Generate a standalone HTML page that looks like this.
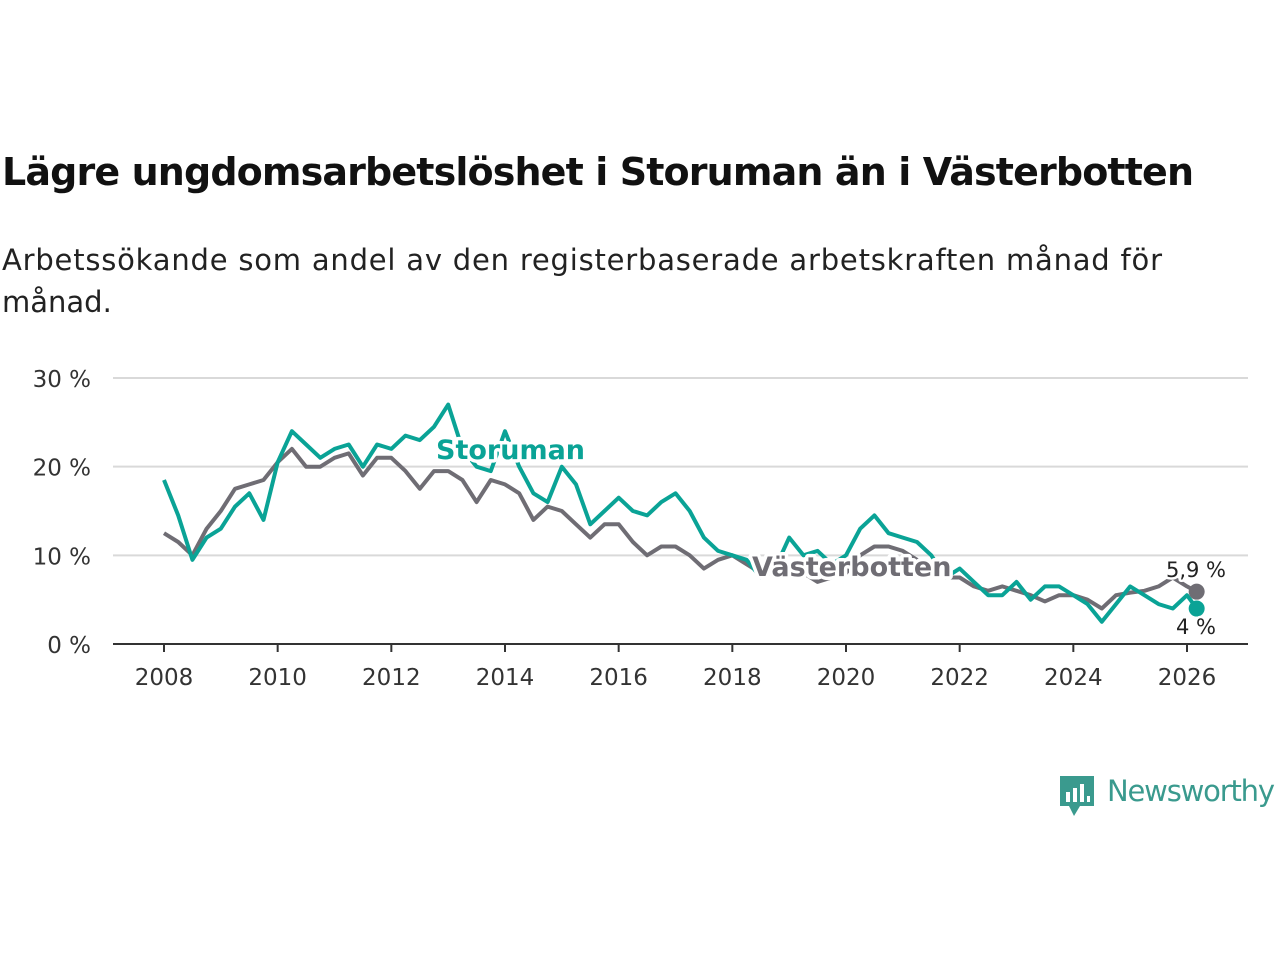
<!DOCTYPE html>
<html><head><meta charset="utf-8"><style>
body{margin:0;background:#fff;width:1280px;height:960px;overflow:hidden;font-family:"Liberation Sans","DejaVu Sans",sans-serif}
</style></head><body>
<svg width="1280" height="960">
<text x="2" y="185" font-size="38" font-weight="bold" fill="#111" font-family="DejaVu Sans, sans-serif" textLength="1192">Lägre ungdomsarbetslöshet i Storuman än i Västerbotten</text>
<text x="2" y="270" font-size="29" fill="#222" font-family="DejaVu Sans, sans-serif" textLength="1160">Arbetssökande som andel av den registerbaserade arbetskraften månad för</text>
<text x="2" y="312" font-size="29" fill="#222" font-family="DejaVu Sans, sans-serif">månad.</text>
<g id="grid"></g><g id="axes"></g><g id="lines"></g><g id="labels"></g>
<g>
<path d="M1060 776h34v30h-14l-6 10-5-10h-9z" fill="#3a9a8e"/>
<rect x="1066" y="792" width="4" height="10" fill="#fff"/><rect x="1073" y="788" width="4" height="14" fill="#fff"/><rect x="1080" y="784" width="4" height="18" fill="#fff"/><rect x="1087" y="796" width="3" height="6" fill="#fff"/>
<text x="1107" y="801" font-size="29" fill="#3a9a8e" font-family="DejaVu Sans, sans-serif" textLength="168">Newsworthy</text>
</g>
</svg>
<script>
const years=[2008,2010,2012,2014,2016,2018,2020,2022,2024,2026];
const yTicks=[0,10,20,30];
const vasterbotten=[12.5,11.5,10,13,15,17.5,18,18.5,20.5,22,20,20,21,21.5,19,21,21,19.5,17.5,19.5,19.5,18.5,16,18.5,18,17,14,15.5,15,13.5,12,13.5,13.5,11.5,10,11,11,10,8.5,9.5,10,9,8,8,8.5,8,7,7.5,8,10,11,11,10.5,9.5,8.5,7.5,7.5,6.5,6,6.5,6,5.5,4.8,5.5,5.5,5,4,5.5,5.8,6,6.5,7.5,6.5,5.9];
const storuman=[18.5,14.5,9.5,12,13,15.5,17,14,20.5,24,22.5,21,22,22.5,20,22.5,22,23.5,23,24.5,27,22,20,19.5,24,20,17,16,20,18,13.5,15,16.5,15,14.5,16,17,15,12,10.5,10,9.5,7.5,8.5,12,10,10.5,9,10,13,14.5,12.5,12,11.5,10,7.5,8.5,7,5.5,5.5,7,5,6.5,6.5,5.5,4.5,2.5,4.5,6.5,5.5,4.5,4,5.5,4];
const NS="http://www.w3.org/2000/svg";
const X=t=>164+(t-2008)*(1187-164)/18, Y=v=>644-v*(644-378)/30;
const tOf=i=>i<73?2008+i/4:2026.17;
function mk(tag,attrs,parent){const e=document.createElementNS(NS,tag);for(const k in attrs)e.setAttribute(k,attrs[k]);document.getElementById(parent).appendChild(e);return e;}
yTicks.forEach(v=>{
 if(v>0){const l=mk('line',{x1:113,x2:1248,y1:Y(v),y2:Y(v),stroke:'#d9d9d9','stroke-width':2},'grid');
 
 }
 const t=mk('text',{x:91,y:Y(v)+9,'text-anchor':'end','font-size':23,fill:'#333','font-family':'DejaVu Sans, sans-serif'},'axes');t.textContent=v+' %';
 
 
});
const ax=mk('line',{x1:113,x2:1248,y1:644,y2:644,stroke:'#333','stroke-width':2},'axes');


years.forEach(y=>{
 mk('line',{x1:X(y),x2:X(y),y1:644,y2:652,stroke:'#333','stroke-width':2},'axes');
 const t=mk('text',{x:X(y),y:685,'text-anchor':'middle','font-size':23,fill:'#333','font-family':'DejaVu Sans, sans-serif'},'axes');t.textContent=y;
 
 
});
function path(arr){return arr.map((v,i)=>(i?'L':'M')+X(tOf(i)).toFixed(1)+' '+Y(v).toFixed(1)).join('');}
const g=mk('path',{d:path(vasterbotten),fill:'none',stroke:'#6f6d74','stroke-width':4,'stroke-linejoin':'round'},'lines');


const s=mk('path',{d:path(storuman),fill:'none',stroke:'#0aa396','stroke-width':4,'stroke-linejoin':'round'},'lines');


const lastV=vasterbotten[vasterbotten.length-1], lastS=storuman[storuman.length-1];
const d1=mk('circle',{cx:X(2026.17),cy:Y(lastV),r:8,fill:'#6f6d74'},'lines');


const d2=mk('circle',{cx:X(2026.17),cy:Y(lastS),r:8,fill:'#0aa396'},'lines');


function lab(txt,x,y,fill,size,bold,name,anchor){const t=mk('text',{x:x,y:y,'font-size':size,'font-weight':bold?'bold':'normal',fill:fill,stroke:'#fff','stroke-width':bold?7:5,'paint-order':'stroke','stroke-linejoin':'round','text-anchor':anchor||'start','font-family':'DejaVu Sans, sans-serif'},'labels');t.textContent=txt;
 
 }
lab('Storuman',436,459,'#0aa396',27,true,'storuman-label');
lab('Västerbotten',752,576,'#6f6d74',27,true,'vasterbotten-label');
lab(String(lastV).replace('.',',')+' %',1196,577,'#222',21,false,'vasterbotten-value','middle');
lab(String(lastS).replace('.',',')+' %',1196,634,'#222',21,false,'storuman-value','middle');
</script>
</body></html>
